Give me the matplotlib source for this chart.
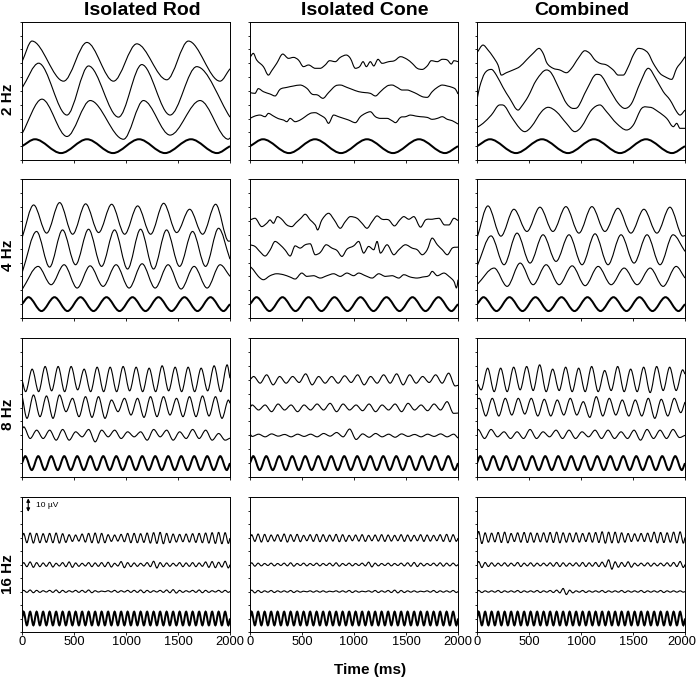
import numpy as np
import matplotlib
matplotlib.use("Agg")
import matplotlib.pyplot as plt
import matplotlib.transforms as mtransforms
from matplotlib.path import Path
from matplotlib.patches import PathPatch

plt.rcParams["font.family"] = ["Liberation Sans", "DejaVu Sans"]

# ---------------- data (ms, microvolts) ----------------
freqs      = [2, 4, 8, 16]
row_labels = ["2 Hz", "4 Hz", "8 Hz", "16 Hz"]
col_titles = ["Isolated Rod", "Isolated Cone", "Combined"]
x_ticks    = [0, 500, 1000, 1500, 2000]
y_ticks    = [0, 10, 20, 30, 40, 50, 60, 70, 80, 90, 100]
t_end      = 2000

# stimulus trace (bottom of every panel)
stim_mid, stim_peak, stim_trough = 10, 15, 5

# 2 Hz : (time, value) points along each trace
rod2_a = [(0, 71), (96, 86), (400, 57), (624, 85), (880, 57), (1104, 84),
          (1392, 58), (1600, 86), (1904, 57), (2000, 66)]
rod2_b = [(0, 52), (160, 70), (432, 32.5), (640, 68), (928, 31), (1152, 69),
          (1424, 32.5), (1680, 67.5), (2000, 31)]
rod2_c = [(0, 19), (192, 44), (432, 17), (656, 43), (976, 15), (1168, 43),
          (1424, 18), (1712, 43), (1984, 15), (2000, 16)]

cone2_a = [(0, 74.2), (32, 77.1), (64, 72.3), (129, 67.5), (177, 61.4), (209, 64.6),
           (257, 69.9), (315, 76.6), (370, 73.5), (418, 74.2), (466, 72.3), (514, 67.5),
           (563, 68.7), (627, 66.3), (675, 66.3), (723, 68.7), (765, 71.8), (820, 71.1),
           (868, 74.2), (926, 75.9), (965, 73.5), (1013, 66.3), (1054, 67.5), (1087, 71.1),
           (1119, 67.5), (1157, 71.1), (1190, 68.0), (1231, 72.8), (1270, 69.9), (1334, 71.1),
           (1389, 71.8), (1447, 74.7), (1511, 72.8), (1559, 69.9), (1608, 66.3), (1656, 65.5),
           (1704, 68.0), (1743, 71.8), (1801, 71.1), (1849, 72.8), (1897, 72.3), (1936, 69.4),
           (1961, 71.8), (2000, 71.1)]
cone2_b = [(0, 48.7), (48, 48.2), (80, 51.6), (129, 49.4), (193, 47.7), (241, 46.3),
           (289, 51.1), (354, 52.5), (418, 53.5), (482, 54.2), (547, 51.8), (595, 47.7),
           (650, 47.0), (701, 44.6), (755, 48.7), (820, 53.5), (868, 54.2), (932, 52.5),
           (981, 51.1), (1045, 49.4), (1109, 48.7), (1157, 48.2), (1206, 46.3), (1254, 49.4),
           (1318, 53.5), (1366, 54.2), (1415, 52.5), (1463, 50.6), (1511, 50.6), (1559, 49.4),
           (1608, 47.7), (1656, 45.8), (1704, 45.3), (1752, 49.4), (1801, 52.5), (1849, 54.2),
           (1897, 53.5), (1945, 52.5), (1977, 51.1), (2000, 47.7)]
cone2_c = [(0, 30.1), (48, 31.8), (96, 32.5), (145, 31.3), (177, 33.7), (225, 31.8),
           (273, 29.9), (322, 28.9), (354, 27.7), (386, 30.1), (434, 27.7), (482, 28.9),
           (530, 31.3), (579, 33.7), (627, 34.2), (675, 32.5), (723, 30.1), (755, 26.5),
           (804, 32.5), (852, 31.3), (900, 30.1), (948, 28.9), (1013, 27.0), (1061, 31.3),
           (1109, 33.7), (1157, 34.9), (1206, 31.3), (1254, 30.1), (1318, 30.1), (1366, 28.4),
           (1399, 27.0), (1447, 30.8), (1495, 31.3), (1543, 32.5), (1592, 31.8), (1640, 31.3),
           (1704, 30.8), (1752, 29.4), (1801, 30.1), (1849, 31.3), (1897, 29.4), (1945, 28.4),
           (2000, 26.0)]

comb2_a = [(0, 77.6), (58, 83.1), (106, 79.5), (154, 74.7), (202, 68.7), (234, 61.4),
           (282, 63.1), (347, 65.1), (411, 67.5), (475, 72.3), (539, 77.1), (597, 80.7),
           (636, 77.1), (674, 69.9), (732, 66.3), (796, 65.1), (860, 63.1), (909, 66.3),
           (973, 73.5), (1037, 79.0), (1085, 77.1), (1134, 72.3), (1182, 69.9), (1246, 68.7),
           (1310, 65.1), (1358, 61.4), (1406, 61.4), (1455, 67.5), (1503, 75.9), (1551, 80.7),
           (1599, 80.0), (1647, 77.1), (1695, 69.9), (1759, 62.7), (1808, 60.2), (1872, 58.3),
           (1920, 66.3), (1968, 71.1), (2000, 74.7)]
comb2_b = [(0, 43.4), (26, 53.0), (74, 62.7), (138, 65.5), (186, 61.4), (250, 52.5),
           (314, 44.6), (395, 36.1), (427, 38.6), (491, 45.8), (571, 57.8), (668, 65.1),
           (716, 62.7), (796, 50.6), (860, 41.0), (925, 37.3), (973, 38.6), (1053, 50.6),
           (1149, 61.9), (1198, 60.7), (1278, 50.6), (1358, 41.0), (1422, 37.3), (1487, 41.0),
           (1567, 55.4), (1647, 66.3), (1727, 57.8), (1791, 49.4), (1856, 43.4), (1920, 34.9),
           (1952, 32.5), (2000, 36.1)]
comb2_c = [(0, 23.6), (58, 26.5), (138, 32.5), (218, 39.8), (266, 39.0), (330, 31.3),
           (411, 22.9), (459, 20.5), (523, 24.1), (620, 34.9), (684, 38.1), (764, 34.9),
           (860, 26.5), (941, 20.5), (1005, 24.1), (1101, 36.1), (1182, 39.8), (1246, 34.9),
           (1342, 26.5), (1438, 21.7), (1503, 25.3), (1583, 37.3), (1663, 38.1), (1743, 34.9),
           (1824, 30.1), (1888, 24.1), (1920, 26.5), (1952, 22.9), (2000, 22.9)]

# 4 Hz : rod / combined as successive extrema every half cycle, cone as points
rod4_a = dict(v0=57.6, t0=112, v1=55.5,
              ext=[81.5, 61.2, 83.2, 60.4, 82.3, 61.6, 82.0, 60.4, 80.8, 60.4,
                   82.7, 61.6, 78.4, 60.4, 82.0, 55.4])
rod4_b = dict(v0=32.4, t0=140, v1=42.4,
              ext=[62.4, 36.7, 63.5, 38.4, 64.0, 37.2, 63.5, 35.3, 64.0, 35.3,
                   63.5, 37.2, 62.4, 37.2, 64.7])
rod4_c = dict(v0=20.4, t0=155, v1=30.0,
              ext=[37.2, 24.0, 38.4, 21.6, 37.6, 22.8, 38.4, 21.6, 39.1, 21.6,
                   38.4, 20.9, 37.2, 21.6, 38.4])

cone4_a = [(0, 70.7), (48, 71.9), (113, 65.9), (161, 68.3), (193, 70.7), (225, 68.3),
           (264, 73.1), (305, 71.2), (354, 67.1), (402, 65.9), (444, 68.8), (489, 71.9),
           (531, 74.8), (579, 70.7), (627, 67.1), (650, 63.5), (691, 70.7), (756, 75.5),
           (810, 70.7), (868, 64.7), (916, 69.5), (965, 73.1), (1029, 71.9), (1077, 68.3),
           (1125, 64.7), (1174, 69.5), (1222, 73.6), (1270, 71.2), (1334, 70.7), (1389, 66.4),
           (1440, 70.7), (1479, 73.1), (1527, 71.2), (1575, 73.1), (1640, 65.5), (1688, 70.7),
           (1752, 71.2), (1817, 71.9), (1871, 67.1), (1913, 67.1), (1961, 71.9), (2000, 70.3)]
cone4_b = [(0, 52.8), (48, 51.6), (96, 47.8), (145, 44.7), (193, 49.0), (241, 55.2),
           (289, 52.8), (338, 49.0), (386, 44.7), (434, 52.0), (482, 50.4), (531, 52.8),
           (579, 53.5), (627, 45.6), (675, 47.2), (733, 52.8), (788, 50.4), (836, 48.7),
           (884, 44.4), (932, 49.6), (997, 52.0), (1045, 55.2), (1093, 46.8), (1141, 51.6),
           (1190, 49.2), (1222, 55.2), (1254, 46.8), (1318, 52.8), (1383, 45.6), (1431, 49.2),
           (1495, 52.8), (1559, 50.4), (1608, 49.2), (1656, 45.6), (1704, 49.2), (1752, 57.6),
           (1801, 52.8), (1849, 49.2), (1897, 45.6), (1945, 50.4), (2000, 51.1)]
cone4_c = [(0, 37.2), (32, 34.8), (80, 30.0), (129, 27.6), (193, 30.5), (257, 31.9),
           (322, 31.2), (386, 29.5), (434, 28.1), (498, 32.4), (547, 30.0), (611, 30.5),
           (675, 28.8), (740, 30.5), (804, 31.9), (868, 30.0), (932, 32.4), (997, 30.5),
           (1045, 32.4), (1109, 30.5), (1174, 28.8), (1238, 31.9), (1302, 30.0), (1366, 30.5),
           (1431, 28.8), (1479, 31.2), (1543, 29.5), (1608, 28.8), (1656, 29.5), (1720, 30.5),
           (1752, 33.6), (1801, 30.5), (1865, 32.4), (1913, 30.0), (1961, 26.4), (1986, 21.6),
           (2000, 27.6)]

comb4_a = dict(v0=57.6, t0=105, v1=59.5,
               ext=[80.8, 59.0, 78.4, 62.4, 79.9, 62.4, 80.3, 61.2, 80.3, 62.4,
                    79.1, 61.2, 78.4, 61.2, 79.9, 59.0])
comb4_b = dict(v0=37.2, t0=135, v1=48.0,
               ext=[59.2, 38.4, 61.2, 39.6, 60.0, 40.8, 60.0, 38.4, 60.7, 38.4,
                    60.0, 39.6, 60.0, 38.4, 60.0])
comb4_c = dict(v0=24.0, t0=165, v1=28.8,
               ext=[36.0, 22.8, 39.6, 24.0, 38.4, 24.0, 37.6, 23.3, 37.2, 24.0,
                    36.0, 24.0, 36.0, 22.8, 37.2])

# 8 Hz : first / second extremum of every cycle
rod8_a = dict(v0=70, t0=35, v1=71,
              first=[61.4, 61.4, 62.0, 61.4, 62.7, 61.4, 61.4, 61.4, 62.0, 61.4, 61.4, 62.0, 61.4, 61.4, 62.0, 61.4],
              second=[77.6, 79.5, 79.5, 79.5, 77.6, 79.0, 79.0, 79.5, 79.0, 78.3, 80.0, 79.0, 79.0, 78.3, 80.0, 80.7])
rod8_b = dict(v0=59, t0=48, v1=53,
              first=[42.2, 43.4, 42.2, 47.0, 43.4, 42.9, 42.2, 47.0, 44.6, 42.9, 43.4, 44.6, 43.4, 43.4, 43.9, 42.2],
              second=[59.0, 58.3, 59.0, 56.6, 57.8, 57.8, 55.4, 56.6, 56.6, 57.8, 57.8, 56.6, 57.8, 58.3, 57.8, 55.4])
rod8_c = dict(v0=34, t0=16, v1=28,
              first=[36.1, 33.7, 33.7, 34.2, 32.5, 34.2, 33.7, 33.7, 32.5, 32.5, 34.2, 33.7, 32.5, 34.2, 33.7, 31.3],
              second=[27.7, 27.7, 26.5, 26.5, 28.9, 25.3, 28.9, 27.7, 28.9, 26.5, 28.9, 26.5, 27.7, 27.7, 26.5, 26.5])

cone8_a = dict(v0=70, t0=35, v1=66,
               first=[72.3, 73.5, 72.3, 72.3, 74.2, 72.3, 72.3, 72.8, 73.5, 72.3, 73.5, 74.2, 73.5, 72.3, 73.5, 74.7],
               second=[67.5, 66.3, 67.5, 68.0, 66.3, 67.5, 67.5, 68.0, 66.3, 67.5, 67.5, 66.3, 67.5, 68.0, 67.5, 65.5])
cone8_b = dict(v0=50, t0=20, v1=46,
               first=[51.8, 51.8, 52.5, 51.8, 51.8, 52.5, 53.0, 52.5, 51.8, 52.5, 51.8, 52.5, 53.0, 51.8, 52.5, 54.2],
               second=[48.2, 47.0, 48.2, 47.0, 48.2, 48.2, 47.0, 48.2, 47.7, 47.0, 48.2, 47.0, 48.2, 47.7, 48.2, 45.8])
cone8_c = dict(v0=31, t0=20.5, v1=28,
               first=[29.2, 28.9, 29.4, 28.9, 29.2, 28.9, 29.4, 28.9, 27.0, 28.6, 28.9, 28.6, 29.2, 28.9, 29.2, 28.9],
               second=[30.8, 31.0, 30.6, 30.8, 30.8, 31.3, 32.0, 34.5, 31.0, 31.3, 30.8, 31.0, 30.6, 30.8, 31.0, 30.8])

comb8_a = dict(v0=68, t0=40, v1=74,
               first=[62.7, 61.4, 61.4, 62.7, 62.2, 61.4, 62.2, 61.4, 61.4, 61.4, 62.2, 61.4, 61.4, 60.7, 62.2, 62.2],
               second=[78.3, 78.3, 79.0, 79.5, 80.7, 77.6, 79.0, 78.3, 79.5, 76.6, 79.5, 77.6, 79.0, 79.5, 79.0, 77.1])
comb8_b = dict(v0=56, t0=22, v1=54,
               first=[56.6, 56.6, 56.6, 56.6, 56.6, 55.9, 55.4, 56.6, 54.2, 57.8, 56.6, 55.4, 55.4, 56.6, 55.9, 56.6],
               second=[43.9, 43.9, 44.6, 45.3, 43.9, 43.9, 44.6, 44.6, 42.9, 43.9, 44.6, 43.9, 43.9, 42.2, 43.9, 46.3])
comb8_c = dict(v0=33, t0=10, v1=30,
               first=[34.2, 34.2, 32.5, 32.5, 34.2, 32.5, 33.7, 33.7, 32.5, 33.7, 33.7, 32.5, 33.7, 34.2, 33.7, 34.2],
               second=[27.7, 28.9, 27.7, 27.7, 27.7, 28.9, 27.7, 27.7, 28.9, 27.7, 27.7, 27.7, 26.5, 27.7, 27.7, 28.4])

# 16 Hz : baseline and peak-to-peak size of every cycle
rod16_a = dict(c=69.6, t0=15.6, pp=[7, 7.5, 7, 6.5, 7, 7.5, 6.5, 5, 4.5, 6, 7, 7.5, 7, 5, 4.5, 5.5,
                                    7, 7, 6.5, 7.5, 8, 8.5, 7, 6, 5.5, 6, 6.5, 7, 7.5, 8, 8.5, 8])
rod16_b = dict(c=49.9, t0=15.6, pp=[3, 4, 3, 2.5, 3.5, 2, 3, 4, 2.5, 2, 3, 2.5, 3, 3.5, 2, 4.5,
                                    3, 2.5, 2, 3, 5, 3, 2.5, 2, 3, 2.5, 3, 2.5, 4, 4.5, 3.5, 5])
rod16_c = dict(c=30.1, t0=15.6, pp=[1.5, 2, 1.5, 1, 1.5, 2, 1.5, 1, 1.5, 1.5, 2, 1, 0.5, 1, 1.5, 1,
                                    1.5, 1.5, 2, 1.5, 1, 1.5, 2, 2.5, 1.5, 1, 1.5, 2, 1.5, 1, 1.5, 1.5])
cone16_a = dict(c=69.6, t0=15.6, pp=[5, 6, 5.5, 4.5, 5, 6, 5, 5.5, 4, 5, 5.5, 5, 4.5, 5.5, 5, 4,
                                     4.5, 5, 4, 4.5, 5, 4.5, 4, 5, 4.5, 4, 5, 4.5, 4, 5, 5.5, 5])
cone16_b = dict(c=50, t0=15.6, pp=[2.5, 2, 1.5, 2, 1.5, 2, 2.5, 1.5, 2, 1.5, 2, 1.5, 2, 2.5, 1.5, 2,
                                   1.5, 2, 3.5, 2, 1.5, 2, 1.5, 2, 2.5, 3, 2, 1.5, 2, 2.5, 2, 2])
cone16_c = dict(c=30, t0=15.6, pp=[2, 1.5, 1, 1.5, 1, 1, 1.5, 1, 0.5, 1, 1, 1, 0.5, 1, 1, 1.5,
                                   1, 0.5, 1, 1.5, 1, 1.5, 2, 1.5, 1, 1, 0.5, 1, 1.5, 1, 1, 1.5])
comb16_a = dict(c=70, t0=15.6, pp=[9, 7, 6.5, 7.5, 8, 6, 7, 7.5, 7, 6.5, 7, 7.5, 8, 7, 6.5, 7,
                                   6, 7, 7.5, 8.5, 8, 8, 7, 6, 5.5, 6, 6.5, 8, 7.5, 7, 8, 8.5])
comb16_b = dict(c=50, t0=15.6, pp=[4.5, 3, 2.5, 2, 2.5, 2, 3, 2, 2.5, 2, 2, 2.5, 3, 2.5, 2, 2.5,
                                   3, 2.5, 3, 3.5, 7, 4, 3, 4, 2, 2, 2.5, 2, 2, 2.5, 3, 4.5])
comb16_c = dict(c=30, t0=15.6, pp=[1.5, 1, 1, 1.5, 1, 1, 1.5, 1, 1, 1.5, 1, 1.5, 2, 4.5, 2, 1,
                                   1.5, 1, 1, 1.5, 1, 1, 1.5, 1, 1, 1.5, 1, 1, 1.5, 1, 1, 1])

panels = [[[rod2_a, rod2_b, rod2_c], [cone2_a, cone2_b, cone2_c], [comb2_a, comb2_b, comb2_c]],
          [[rod4_a, rod4_b, rod4_c], [cone4_a, cone4_b, cone4_c], [comb4_a, comb4_b, comb4_c]],
          [[rod8_a, rod8_b, rod8_c], [cone8_a, cone8_b, cone8_c], [comb8_a, comb8_b, comb8_c]],
          [[rod16_a, rod16_b, rod16_c], [cone16_a, cone16_b, cone16_c], [comb16_a, comb16_b, comb16_c]]]


def trace_points(tr, f):
    """turn one stored trace into time / value lists"""
    half = 500.0 / f
    if isinstance(tr, list):
        return [p[0] for p in tr], [p[1] for p in tr]
    if "pp" in tr:
        ext = []
        for a in tr["pp"]:
            ext += [tr["c"] + a / 2.0, tr["c"] - a / 2.0]
        v0 = v1 = tr["c"]
    else:
        if "ext" in tr:
            ext = list(tr["ext"])
        else:
            ext = [x for pair in zip(tr["first"], tr["second"]) for x in pair]
        v0, v1 = tr["v0"], tr["v1"]
    t, v = [0.0], [v0]
    for i, e in enumerate(ext):
        ti = tr["t0"] + i * half
        if 0 < ti < t_end:
            t.append(ti)
            v.append(e)
    t.append(float(t_end))
    v.append(v1)
    return t, v


def stim_points(f):
    half = 500.0 / f
    ext = [stim_peak, stim_trough] * (2 * f)
    t = [0.0] + [half / 2 + i * half for i in range(len(ext))] + [float(t_end)]
    v = [stim_mid] + ext + [stim_mid]
    return t, v


def smooth_path(t, v):
    # cubic bezier through the points, flat at turning points
    t = np.asarray(t, float)
    v = np.asarray(v, float)
    n = len(t)
    m = np.zeros(n)
    for i in range(n):
        if i == 0:
            m[i] = (v[1] - v[0]) / (t[1] - t[0])
        elif i == n - 1:
            m[i] = (v[-1] - v[-2]) / (t[-1] - t[-2])
        elif (v[i] - v[i - 1]) * (v[i + 1] - v[i]) <= 0:
            m[i] = 0.0
        else:
            m[i] = (v[i + 1] - v[i - 1]) / (t[i + 1] - t[i - 1])
    verts = [(t[0], v[0])]
    codes = [Path.MOVETO]
    for i in range(n - 1):
        d = (t[i + 1] - t[i]) / 3.0
        verts += [(t[i] + d, v[i] + m[i] * d), (t[i + 1] - d, v[i + 1] - m[i + 1] * d), (t[i + 1], v[i + 1])]
        codes += [Path.CURVE4] * 3
    return Path(verts, codes)


# ---------------- figure ----------------
W, H = 696.0, 677.0
fig = plt.figure(figsize=(W / 100, H / 100), dpi=100)

col_left = [22, 250, 477]
col_w = 208
row_top = [21.7, 179.3, 338, 497]
row_h = [138.3, 138.7, 139, 135]

axes = []
for r in range(4):
    for c in range(3):
        ax = fig.add_axes([col_left[c] / W, 1 - (row_top[r] + row_h[r]) / H, col_w / W, row_h[r] / H])
        for tr in panels[r][c]:
            t, v = trace_points(tr, freqs[r])
            ax.add_patch(PathPatch(smooth_path(t, v), facecolor="none", edgecolor="black", lw=0.8))
        t, v = stim_points(freqs[r])
        ax.add_patch(PathPatch(smooth_path(t, v), facecolor="none", edgecolor="black", lw=1.45))

        ax.set_xlim(0, t_end)
        ax.set_ylim(0, 100)
        ax.set_xticks(x_ticks)
        ax.set_yticks(y_ticks)
        ax.set_yticklabels([])
        if r < 3:
            ax.set_xticklabels([])
        ax.tick_params(direction="out", length=1.8, width=0.6, pad=1, labelsize=9.3)
        for s in ax.spines.values():
            s.set_linewidth(0.7)
        axes.append(ax)

# keep the last "2000" inside the picture
fig.canvas.draw()
last = axes[11].get_xticklabels()[-1]
last.set_transform(last.get_transform() + mtransforms.ScaledTranslation(-3.5 / 100, 0, fig.dpi_scale_trans))

# 10 uV scale bar
ax = axes[9]
ax.annotate("", xy=(60, 99), xytext=(60, 89),
            arrowprops=dict(arrowstyle="<|-|>", lw=0.8, color="black",
                            mutation_scale=5, shrinkA=0, shrinkB=0))
ax.text(135, 94, "10 \u00b5V", fontsize=6, ha="left", va="center")

title_x = [142, 365, 582]
for c in range(3):
    fig.text(title_x[c] / W, 1 - 15 / H, col_titles[c], ha="center", va="baseline",
             fontsize=14, fontweight="bold")

label_y = [99, 255, 414, 574]
for r in range(4):
    fig.text(7.5 / W, 1 - label_y[r] / H, row_labels[r], rotation=90, ha="center", va="center",
             fontsize=11, fontweight="bold")

fig.text(370 / W, 1 - 670 / H, "Time (ms)", ha="center", va="center", fontsize=11, fontweight="bold")

fig.savefig("out.png", dpi=100)
